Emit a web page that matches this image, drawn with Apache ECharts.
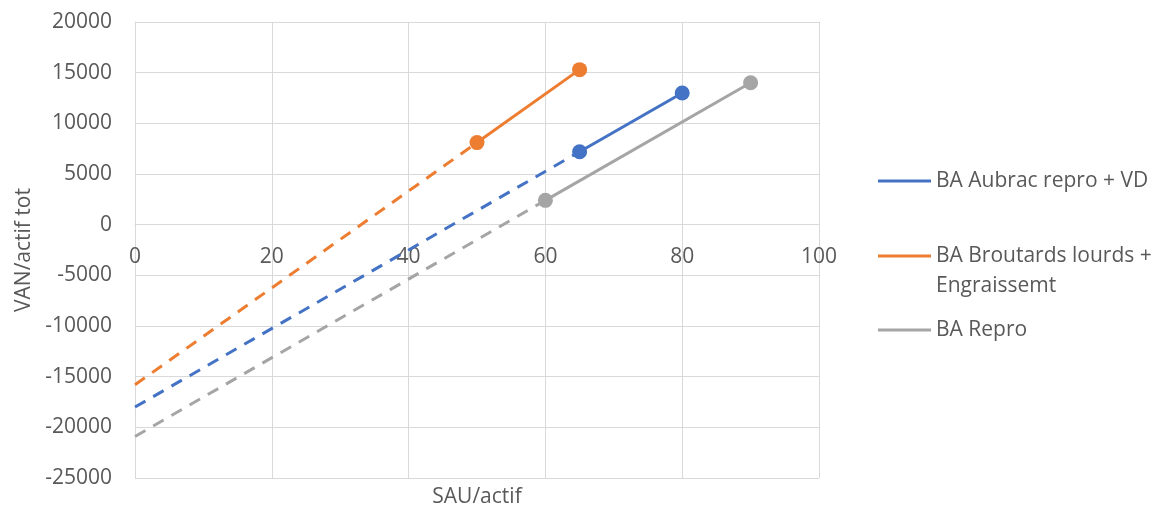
<!DOCTYPE html>
<html>
<head>
<meta charset="utf-8">
<script src="https://cdn.jsdelivr.net/npm/echarts@6/dist/echarts.min.js"></script>
<style>
html,body{margin:0;padding:0;background:#fff;}
#chart{width:1153px;height:511px;}
</style>
</head>
<body>
<div id="chart"></div>
<script>
// Names
const nameAubrac = 'BA Aubrac repro + VD';
const nameBroutards = 'BA Broutards lourds + Engraissemt';
const nameRepro = 'BA Repro';

// Solid segments (SAU/actif, VAN/actif tot)
const aubracSAU = [65, 80];
const aubracVAN = [7200, 13000];
const broutardsSAU = [50, 65];
const broutardsVAN = [8100, 15300];
const reproSAU = [60, 90];
const reproVAN = [2400, 14000];

// Dashed extrapolations back to SAU = 0
const aubracTrendSAU = [0, 65];
const aubracTrendVAN = [-18000, 7200];
const broutardsTrendSAU = [0, 50];
const broutardsTrendVAN = [-15800, 8100];
const reproTrendSAU = [0, 60];
const reproTrendVAN = [-20900, 2400];

const colAubrac = '#4472C4';
const colBroutards = '#ED7D31';
const colRepro = '#A5A5A5';

const FONT = 'Open Sans';
const FS = 21;
const TXT = '#595959';
const GRID = '#D9D9D9';

function pairs(xs, ys) { return xs.map((x, i) => [x, ys[i]]); }

function solid(name, xs, ys, color) {
  return {
    name: name, type: 'line', data: pairs(xs, ys),
    symbol: 'circle', symbolSize: 15,
    itemStyle: { color: color },
    lineStyle: { color: color, width: 3 },
    z: 3, animation: false
  };
}
function dashed(name, xs, ys, color) {
  return {
    name: name, type: 'line', data: pairs(xs, ys),
    symbol: 'none', showSymbol: false,
    itemStyle: { color: color },
    lineStyle: { color: color, width: 3, type: [12, 9] },
    z: 2, animation: false
  };
}

const legendBase = {
  orient: 'vertical', left: 878, padding: 0, itemGap: 0,
  icon: 'rect', itemWidth: 53, itemHeight: 3,
  textStyle: { fontFamily: FONT, fontSize: FS, color: TXT, lineHeight: 30 }
};

const chart = echarts.init(document.getElementById('chart'), null, { renderer: 'canvas' });
chart.setOption({
  backgroundColor: '#fff',
  animation: false,
  grid: { left: 135, top: 22, right: 334, bottom: 33, containLabel: false, outerBoundsMode: 'none' },
  legend: [
    Object.assign({}, legendBase, { top: 166, data: [{ name: nameAubrac }] }),
    Object.assign({}, legendBase, {
      top: 211,
      data: [{ name: nameBroutards }],
      formatter: function (n) { return n === nameBroutards ? '\nBA Broutards lourds +\nEngraissemt' : n; }
    }),
    Object.assign({}, legendBase, { top: 315, data: [{ name: nameRepro }] })
  ],
  xAxis: [
    {
      // value axis whose line and labels sit on VAN = 0
      type: 'value', min: 0, max: 100, interval: 20, position: 'bottom', offset: -254,
      axisLine: { show: true, onZero: false, lineStyle: { color: GRID, width: 1 } },
      axisTick: { show: false },
      axisLabel: { fontFamily: FONT, fontSize: FS, color: TXT, margin: 23, formatter: function (v) { return String(v); } },
      splitLine: { show: true, lineStyle: { color: GRID, width: 1 } }
    },
    {
      // carries the axis title at the bottom of the plot
      type: 'value', min: 0, max: 100, interval: 20, position: 'bottom',
      name: 'SAU/actif', nameLocation: 'middle', nameGap: 9,
      nameTextStyle: { fontFamily: FONT, fontSize: FS, color: TXT, verticalAlign: 'top' },
      axisLine: { show: false, onZero: false },
      axisTick: { show: false },
      axisLabel: { show: false },
      splitLine: { show: false }
    }
  ],
  yAxis: {
    type: 'value', min: -25000, max: 20000, interval: 5000,
    name: 'VAN/actif tot', nameLocation: 'middle', nameGap: 95,
    nameTextStyle: { fontFamily: FONT, fontSize: FS, color: TXT },
    axisLine: { show: true, lineStyle: { color: GRID, width: 1 } },
    axisTick: { show: false },
    axisLabel: { fontFamily: FONT, fontSize: FS, color: TXT, margin: 23, formatter: function (v) { return String(v); } },
    splitLine: { show: true, lineStyle: { color: GRID, width: 1 } }
  },
  series: [
    solid(nameAubrac, aubracSAU, aubracVAN, colAubrac),
    solid(nameBroutards, broutardsSAU, broutardsVAN, colBroutards),
    solid(nameRepro, reproSAU, reproVAN, colRepro),
    dashed(nameAubrac, aubracTrendSAU, aubracTrendVAN, colAubrac),
    dashed(nameBroutards, broutardsTrendSAU, broutardsTrendVAN, colBroutards),
    dashed(nameRepro, reproTrendSAU, reproTrendVAN, colRepro)
  ]
});
</script>
</body>
</html>
